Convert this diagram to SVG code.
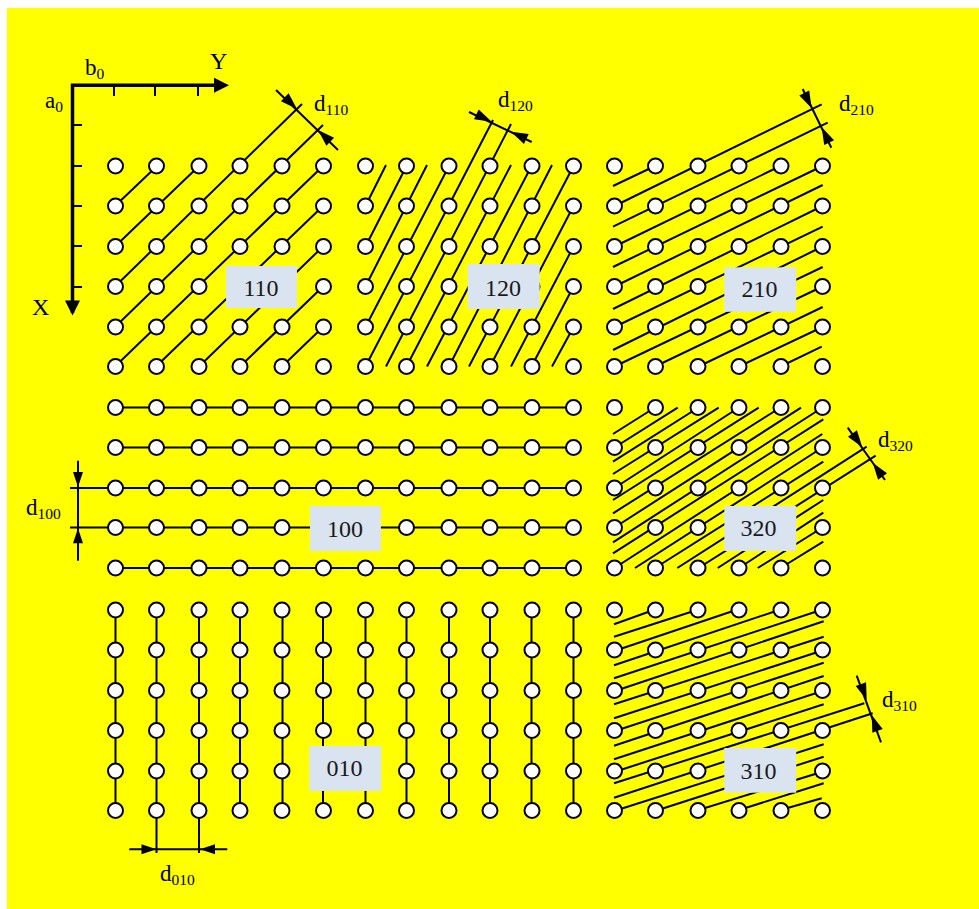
<svg xmlns="http://www.w3.org/2000/svg" xmlns:xlink="http://www.w3.org/1999/xlink" width="979" height="909" viewBox="0 0 979 909">
<style>
text{font-family:"Liberation Serif","Times New Roman",serif;font-size:23px;fill:#000}
.sub{font-size:15.5px}
.lab{font-size:24px;text-anchor:middle;fill:#1a1a1a}
.l path,.l line{fill:none;stroke:#000;stroke-width:2}
.ax{fill:none;stroke:#000;stroke-width:3.5}
.t{fill:none;stroke:#000;stroke-width:2}
.n{fill:#fff;stroke:#000;stroke-width:2}
.box{fill:#dae3f0}
.h{fill:#000}
</style>
<defs>
<g id="r6"><circle class="n" cx="0" cy="0" r="7.5"/><circle class="n" cx="41" cy="0" r="7.5"/><circle class="n" cx="83.5" cy="0" r="7.5"/><circle class="n" cx="124.5" cy="0" r="7.5"/><circle class="n" cx="166.5" cy="0" r="7.5"/><circle class="n" cx="208" cy="0" r="7.5"/></g>
<g id="p6"><use xlink:href="#r6" href="#r6" y="0"/><use xlink:href="#r6" href="#r6" y="40"/><use xlink:href="#r6" href="#r6" y="80.5"/><use xlink:href="#r6" href="#r6" y="120.5"/><use xlink:href="#r6" href="#r6" y="161"/><use xlink:href="#r6" href="#r6" y="200.5"/></g>
<polygon id="hd" class="h" points="0,0 -17,-5.5 -17,5.5"/>
<polygon id="hs" class="h" points="0,0 -15,-5 -15,5"/>
</defs>
<rect x="7" y="8" width="972" height="901" fill="#ffff00"/>
<g id="connectors" class="l">
<g id="lines-110">
<path d="M115 206L157 166M115 246.5L199 166M115 286.5L302 104M115 327L323 125M115 366.5L323 166M156 366.5L323 206M199 366.5L323 246.5M240 366.5L323 286.5M282 366.5L323 327"/>
<path d="M276 90L338 150"/>
</g>
<g id="lines-120">
<path d="M365.5 206L386 165M365.5 246.5L406.5 166M365.5 286.5L427 165M365.5 327L449 166M365.5 366.5L493 120M386 366.5L511 124M406.5 366.5L511 165M427 366.5L531.5 166M449 366.5L552 165M469 366.5L573.5 166M490 366.5L573.5 206M511 366.5L573.5 246.5M531.5 366.5L573.5 286.5M552 366.5L573.5 327"/>
<path d="M469 112L531.7 142"/>
</g>
<g id="lines-210">
<path d="M613 186L655 166M614.5 206L821.7 104.3M613 226.7L827.7 122.7M614.5 246.5L780.5 166M613 267L822.5 166M614.5 286.5L822.7 185M613 309L822.5 206M614.5 327L822.7 226.7M613 350L822.5 246.5M614.5 366.5L822.7 267M655 366.5L822.5 286.5M698.5 366.5L822.7 307M739 366.5L822.5 327M780.5 366.5L821.7 346.7"/>
<path d="M802.7 89L831.3 147.7"/>
</g>
<g id="lines-100">
<path d="M115 407.5H573.5M115 447.5H573.5M70 488H573.5M70 527.5H573.5M115 568H573.5"/>
<path d="M78 460.7V560.7"/>
</g>
<g id="lines-320">
<path d="M613 434L655 407.5M614.5 447.5L677.7 407.7M613 461.7L698.5 407.5M613 474L718.7 407.7M614.5 488L739 407.5M613 500L758.7 407.7M613 513.3L780.5 407.5M614.5 527.5L801 407.7M613 542.3L822.5 407.5M613 553.3L823.3 419.3M614.5 568L822.3 434M635 568L822.5 447.5M655 568L823.3 461.7M677.3 568L866.7 446.7M698.5 568L875.7 455.7M717.7 568L823.3 500M739 568L823.3 512.7M757.7 568L822.5 527.5M780.5 568L823.3 541.7"/>
<path d="M847.7 427.7L885 480"/>
</g>
<g id="lines-010">
<path d="M115.5 609.5V811M156.5 609.5V853M199 609.5V853M240 609.5V811M282.5 609.5V811M323 609.5V811M365.5 609.5V811M406.5 609.5V811M449 609.5V811M490 609.5V811M531.5 609.5V811M573.5 609.5V811"/>
<path d="M129.3 849.3H227.3"/>
</g>
<g id="lines-310">
<path d="M614 624.3L655 609.5M614 636.7L698.5 609.5M615 650.7L739 609M614 665.3L780.5 609.5M614 678.3L822.5 609.5M615 691L823.7 621.3M614 704.3L823.7 636.7M614 718.3L822.5 650.5M615 731L823.7 662.7M614 745.7L823.7 676M614 759.3L822.5 691M615 771.7L823.7 704.3M614 783.3L864.3 703.3M614 797.7L872.7 713.3M615 810.7L823.7 744.3M655 811L823.7 756.7M698.5 810L822.5 771.7M739 810L823.7 783.3M780.5 810L821.7 798.3"/>
<path d="M856.7 675.7L881 742.3"/>
</g>
</g>
<g id="arrowheads">
<use xlink:href="#hd" href="#hd" transform="translate(297 109) rotate(44)"/>
<use xlink:href="#hd" href="#hd" transform="translate(318 130) rotate(224)"/>
<use xlink:href="#hd" href="#hd" transform="translate(491.7 121.7) rotate(25.5)"/>
<use xlink:href="#hd" href="#hd" transform="translate(511 131.7) rotate(205.5)"/>
<use xlink:href="#hd" href="#hd" transform="translate(811.7 108.3) rotate(64)"/>
<use xlink:href="#hd" href="#hd" transform="translate(821.7 127.3) rotate(244)"/>
<use xlink:href="#hd" href="#hd" transform="translate(862.3 447.3) rotate(54.5)"/>
<use xlink:href="#hd" href="#hd" transform="translate(872.7 462.7) rotate(234.5)"/>
<use xlink:href="#hd" href="#hd" transform="translate(866.7 700) rotate(70)"/>
<use xlink:href="#hd" href="#hd" transform="translate(871.7 715) rotate(250)"/>
<use xlink:href="#hs" href="#hs" transform="translate(78 487) rotate(90)"/>
<use xlink:href="#hs" href="#hs" transform="translate(78 528.3) rotate(270)"/>
<use xlink:href="#hs" href="#hs" transform="translate(156.5 849.3)"/>
<use xlink:href="#hs" href="#hs" transform="translate(200 849.3) rotate(180)"/>
</g>
<g id="axes">
<path class="ax" d="M72.5 313V85.3H215"/>
<polygon class="h" points="229,85.3 214,77.8 214,92.8"/>
<polygon class="h" points="72.5,315.5 65,300.5 80,300.5"/>
<path class="t" d="M114 85V96M155 85V96M198 85V96M72 125H82M72 166H82M72 206H82M72 246H82M72 287H82"/>
<text x="85" y="75">b<tspan class="sub" dy="4">0</tspan></text>
<text x="210" y="69" style="font-size:24px">Y</text>
<text x="45" y="108">a<tspan class="sub" dy="4">0</tspan></text>
<text x="32" y="315" style="font-size:24px">X</text>
</g>
<g id="panel-110"><use xlink:href="#p6" href="#p6" x="115.5" y="166"/></g>
<g id="panel-120"><use xlink:href="#p6" href="#p6" x="365.5" y="166"/></g>
<g id="panel-210"><use xlink:href="#p6" href="#p6" x="614.5" y="166"/></g>
<g id="panel-100">
<use xlink:href="#r6" href="#r6" x="115.5" y="407.5"/><use xlink:href="#r6" href="#r6" x="115.5" y="447.5"/><use xlink:href="#r6" href="#r6" x="115.5" y="488"/><use xlink:href="#r6" href="#r6" x="115.5" y="527.5"/><use xlink:href="#r6" href="#r6" x="115.5" y="568"/>
<use xlink:href="#r6" href="#r6" x="365.5" y="407.5"/><use xlink:href="#r6" href="#r6" x="365.5" y="447.5"/><use xlink:href="#r6" href="#r6" x="365.5" y="488"/><use xlink:href="#r6" href="#r6" x="365.5" y="527.5"/><use xlink:href="#r6" href="#r6" x="365.5" y="568"/>
</g>
<g id="panel-320">
<use xlink:href="#r6" href="#r6" x="614.5" y="407.5"/><use xlink:href="#r6" href="#r6" x="614.5" y="447.5"/><use xlink:href="#r6" href="#r6" x="614.5" y="488"/><use xlink:href="#r6" href="#r6" x="614.5" y="527.5"/><use xlink:href="#r6" href="#r6" x="614.5" y="568"/>
</g>
<g id="panel-010"><use xlink:href="#p6" href="#p6" x="115.5" y="610"/><use xlink:href="#p6" href="#p6" x="365.5" y="610"/></g>
<g id="panel-310"><use xlink:href="#p6" href="#p6" x="614.5" y="610"/></g>
<g id="labels">
<rect class="box" x="226" y="266" width="71" height="42"/><text class="lab" x="261" y="296">110</text>
<rect class="box" x="467.7" y="264" width="72" height="45"/><text class="lab" x="503" y="296">120</text>
<rect class="box" x="724.3" y="267.3" width="72" height="44.5"/><text class="lab" x="759.5" y="297">210</text>
<rect class="box" x="310" y="506" width="71" height="45"/><text class="lab" x="345" y="537">100</text>
<rect class="box" x="724.3" y="506" width="72" height="45"/><text class="lab" x="758.5" y="536">320</text>
<rect class="box" x="309.3" y="746" width="72" height="45"/><text class="lab" x="344.5" y="776">010</text>
<rect class="box" x="724.3" y="748" width="72" height="44.7"/><text class="lab" x="758.5" y="779">310</text>
</g>
<g id="dim-labels">
<text x="314" y="111">d<tspan class="sub" dy="4">110</tspan></text>
<text x="498" y="107">d<tspan class="sub" dy="4">120</tspan></text>
<text x="839" y="111">d<tspan class="sub" dy="4">210</tspan></text>
<text x="878" y="447">d<tspan class="sub" dy="4">320</tspan></text>
<text x="882" y="707">d<tspan class="sub" dy="4">310</tspan></text>
<text x="26" y="515">d<tspan class="sub" dy="4">100</tspan></text>
<text x="160" y="881">d<tspan class="sub" dy="4">010</tspan></text>
</g>
</svg>
